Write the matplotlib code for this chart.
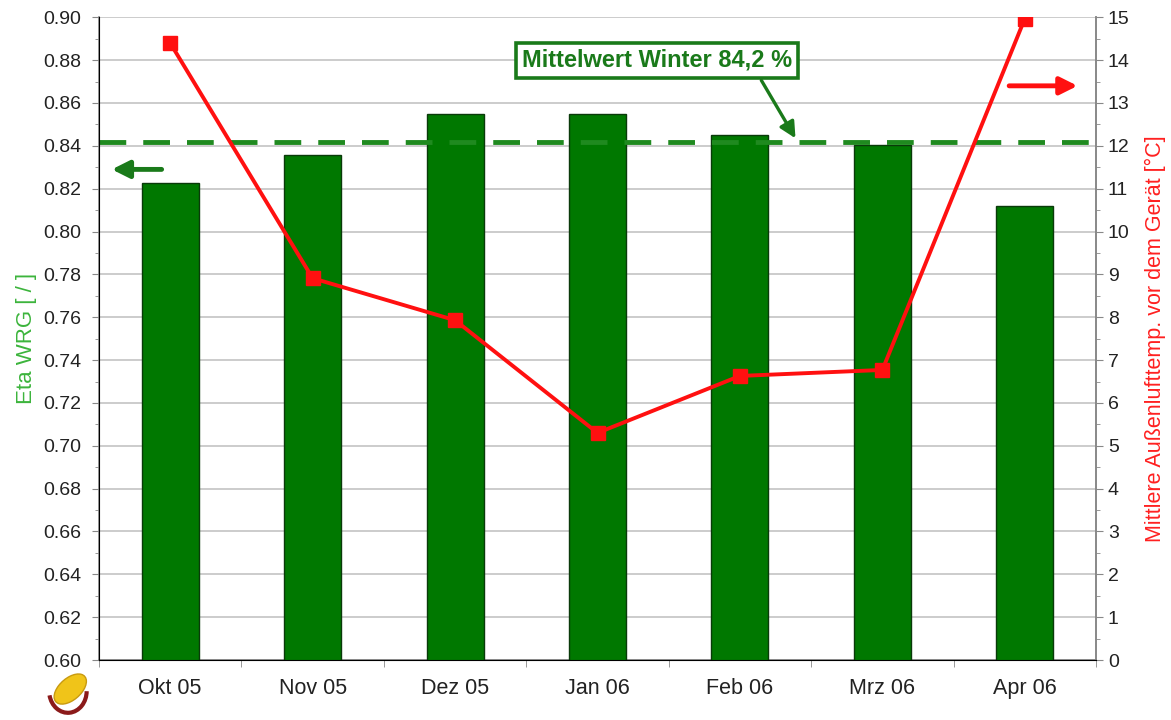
import matplotlib.pyplot as plt
from matplotlib.patches import Ellipse, Arc
import numpy as np

plt.rcParams['font.family'] = ['Liberation Sans', 'DejaVu Sans']

months = ['Okt 05', 'Nov 05', 'Dez 05', 'Jan 06', 'Feb 06', 'Mrz 06', 'Apr 06']
eta = [0.8225, 0.8356, 0.8547, 0.8547, 0.845, 0.8403, 0.8118]
temp = [14.4, 8.91, 7.93, 5.30, 6.63, 6.77, 14.97]
mean_winter = 0.842

fig = plt.figure(figsize=(11.71, 7.2), dpi=100)
ax = fig.add_axes([0.0845, 0.0833, 0.8515, 0.8927])
x = np.arange(len(months))

ax.bar(x, eta, width=0.4, color='#007800', edgecolor='#0a3a0a', linewidth=1.0, zorder=3)
ax.set_ylim(0.60, 0.90)
ax.set_xlim(-0.5, len(months) - 0.5)
ax.set_yticks(np.arange(0.60, 0.901, 0.02))
ax.set_yticks(np.arange(0.60, 0.901, 0.01), minor=True)
ax.set_yticklabels([f'{v:.2f}' for v in np.arange(0.60, 0.901, 0.02)])
ax.yaxis.grid(True, color='#c8c8c8', linewidth=1.3, zorder=0)
ax.set_axisbelow(True)
ax.set_xticks(x)
ax.set_xticklabels(months)
ax.set_xticks(np.arange(-0.5, len(months), 1.0), minor=True)
ax.tick_params(axis='x', which='major', length=0, pad=13, labelsize=15.5, labelcolor='#222222')
ax.tick_params(axis='x', which='minor', length=5, color='#888888')
ax.tick_params(axis='y', which='major', length=5, pad=8, color='#888888', labelsize=14, labelcolor='#222222')
ax.tick_params(axis='y', which='minor', length=3, color='#888888')
ax.spines['top'].set_visible(False)
for s in ['left', 'bottom', 'right']:
    ax.spines[s].set_color('#888888')
    ax.spines[s].set_linewidth(1.2)
ax.set_ylabel('Eta WRG [ / ]', color='#3cb43c', fontsize=16, labelpad=4)

ax.axhline(mean_winter, color='#1f8a1f', linestyle=(0, (5.5, 3.5)), linewidth=3.5, zorder=4)

ax2 = ax.twinx()
ax2.plot(x, temp, color='#ff1010', linewidth=2.8, marker='s', markersize=9.5, zorder=5)
ax2.set_ylim(0, 15)
ax2.set_yticks(range(0, 16))
ax2.set_yticks(np.arange(0, 15.01, 0.5), minor=True)
ax2.tick_params(axis='y', which='major', length=5, color='#888888', labelsize=14, labelcolor='#222222')
ax2.tick_params(axis='y', which='minor', length=3, color='#888888')
ax2.spines['top'].set_visible(False)
ax2.spines['right'].set_color('#888888')
ax2.spines['right'].set_linewidth(1.2)
ax2.set_ylabel('Mittlere Außenlufttemp. vor dem Gerät [°C]', color='#ff2020', fontsize=15.5, labelpad=11)

# annotation box with arrow to mean line
ax.annotate('', xy=(4.39, 0.8435), xytext=(4.15, 0.8706),
            arrowprops=dict(arrowstyle='-|>', color='#1a7a1a', lw=2.4, mutation_scale=24,
                            shrinkA=0, shrinkB=0), zorder=6)
ax.text(2.47, 0.8800, 'Mittelwert Winter 84,2 %', fontsize=17, fontweight='bold',
        color='#1a7a1a', ha='left', va='center', zorder=7,
        bbox=dict(boxstyle='square,pad=0.25', fc='white', ec='#1a7a1a', lw=2.6))

# axis direction arrows
ax.annotate('', xy=(-0.41, 0.829), xytext=(-0.06, 0.829),
            arrowprops=dict(arrowstyle='-|>', color='#1a7a1a', lw=3.5, mutation_scale=26,
                            shrinkA=0, shrinkB=0))
ax2.annotate('', xy=(6.37, 13.4), xytext=(5.89, 13.4),
             arrowprops=dict(arrowstyle='-|>', color='#ff1010', lw=3.5, mutation_scale=26,
                             shrinkA=0, shrinkB=0))

# small logo at bottom left
fig.patches.append(Ellipse((0.060, 0.043), 0.022, 0.045, angle=-25, transform=fig.transFigure,
                           fc='#f0c419', ec='#c89a10', lw=1))
fig.patches.append(Arc((0.058, 0.040), 0.032, 0.06, angle=0, theta1=200, theta2=360,
                       transform=fig.transFigure, color='#8b1a1a', lw=3))

fig.savefig('out.png', dpi=100)
